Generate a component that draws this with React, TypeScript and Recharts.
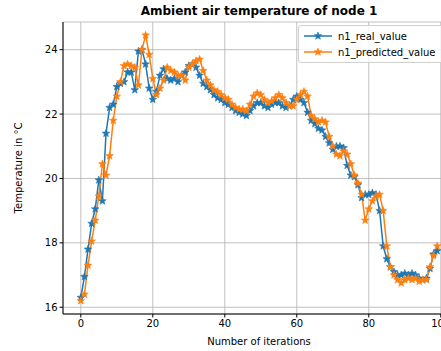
import { LineChart, Line, XAxis, YAxis, CartesianGrid } from "recharts";

const realValues = [
  16.3, 16.95, 17.8, 18.6, 19.05, 19.95, 19.3, 21.4, 22.2, 22.3,
  22.85, 22.95, 23.0, 23.3, 23.3, 22.75, 23.95, 24.0, 23.55, 22.8,
  22.45, 22.7, 23.2, 23.4, 23.1, 23.05, 23.1, 23.0, 23.2, 23.3,
  23.5, 23.55, 23.45, 23.2, 22.95, 22.85, 22.75, 22.6, 22.5, 22.45,
  22.35, 22.3, 22.2, 22.1, 22.05, 22.0, 21.95, 22.1, 22.25, 22.35,
  22.35, 22.25, 22.2, 22.3, 22.35, 22.35, 22.25, 22.2, 22.25, 22.45,
  22.55, 22.45, 22.35, 22.05, 21.8, 21.7, 21.55, 21.5, 21.3, 21.1,
  20.9, 21.0, 21.0, 20.95, 20.4, 20.1, 20.05, 19.8, 19.4, 19.5,
  19.5, 19.55, 19.5, 19.0, 17.9, 17.5, 17.25, 17.1, 17.0, 17.0,
  17.05, 17.0, 17.05, 17.0, 16.9, 16.85, 16.9, 17.2, 17.65, 17.75,
];

const predictedValues = [
  16.2, 16.4, 17.3, 18.05, 18.7, 19.45, 20.45, 20.1, 20.7, 21.8,
  22.55, 23.0, 23.5, 23.55, 23.5, 23.45, 22.9, 24.0, 24.45, 23.85,
  23.1, 22.6, 22.8, 23.05, 23.45, 23.35, 23.3, 23.2, 23.2, 23.05,
  23.45, 23.55, 23.65, 23.7, 23.35, 23.05, 22.9, 22.75, 22.7, 22.6,
  22.5, 22.45, 22.3, 22.2, 22.15, 22.15, 22.1, 22.3, 22.55, 22.65,
  22.6, 22.45, 22.35, 22.4, 22.5, 22.6, 22.5, 22.35, 22.25, 22.25,
  22.45, 22.6, 22.7, 22.55, 21.95, 21.85, 21.75, 21.8, 21.75, 21.3,
  21.0, 20.75, 20.7, 20.85, 20.75, 20.45, 20.1, 19.85, 19.5, 18.7,
  19.05, 19.3, 19.45, 19.5, 19.0, 17.9, 17.25, 17.0, 16.85, 16.75,
  16.85, 16.9, 16.85, 16.9, 16.8, 16.85, 16.85, 17.25, 17.6, 17.9,
];

const xTicks = [0, 20, 40, 60, 80, 100];
const yTicks = [16, 18, 20, 22, 24];

const data = realValues.map((v, i) => ({
  iteration: i,
  n1_real_value: v,
  n1_predicted_value: predictedValues[i],
}));

const BLUE = "#1f77b4";
const ORANGE = "#ff7f0e";
const FONT = "'DejaVu Sans', sans-serif";

function starPath(cx: number, cy: number, r: number) {
  const inner = r * 0.42;
  let d = "";
  for (let k = 0; k < 10; k++) {
    const rad = k % 2 === 0 ? r : inner;
    const a = -Math.PI / 2 + (k * Math.PI) / 5;
    d += (k === 0 ? "M" : "L") + (cx + rad * Math.cos(a)).toFixed(2) + "," + (cy + rad * Math.sin(a)).toFixed(2);
  }
  return d + "Z";
}

const starDot = (color: string) => (props: any) => {
  const { cx, cy, index } = props;
  return <path key={`s-${index}`} d={starPath(cx, cy, 4)} fill={color} stroke={color} strokeWidth={0.6} />;
};

function LegendBox() {
  const rows = [
    { name: "n1_real_value", color: BLUE },
    { name: "n1_predicted_value", color: ORANGE },
  ];
  return (
    <div
      style={{
        position: "absolute",
        left: 298,
        top: 25,
        border: "1px solid #d0d0d0",
        borderRadius: 3,
        background: "rgba(255,255,255,0.8)",
        padding: "2px 6px 2px 5px",
        fontFamily: FONT,
        fontSize: 10,
        color: "#000",
        width: 140,
      }}
    >
      {rows.map((r) => (
        <div key={r.name} style={{ display: "flex", alignItems: "center", height: 16 }}>
          <svg width={28} height={10} style={{ marginRight: 6 }}>
            <line x1={0} y1={5} x2={28} y2={5} stroke={r.color} strokeWidth={1.5} />
            <path d={starPath(14, 5, 4)} fill={r.color} stroke={r.color} strokeWidth={0.6} />
          </svg>
          <span style={{ whiteSpace: "nowrap" }}>{r.name}</span>
        </div>
      ))}
    </div>
  );
}

export default function App() {
  return (
    <div
      style={{
        position: "absolute",
        left: 0,
        top: 0,
        width: 441,
        height: 351,
        overflow: "hidden",
        background: "#fff",
      }}
    >
      <div
        style={{
          position: "absolute",
          top: 4,
          left: 63,
          width: 392,
          textAlign: "center",
          fontFamily: FONT,
          fontWeight: "bold",
          fontSize: 12,
          color: "#000",
        }}
      >
        Ambient air temperature of node 1
      </div>
      <LineChart
        width={470}
        height={351}
        data={data}
        margin={{ top: 22, right: 15, bottom: 0, left: 0 }}
      >
        <CartesianGrid stroke="#b0b0b0" strokeWidth={0.8} />
        <XAxis
          dataKey="iteration"
          type="number"
          domain={[-4.95, 103.95]}
          ticks={xTicks}
          allowDataOverflow
          height={37}
          tick={{ fill: "#000", fontSize: 10, fontFamily: FONT }}
          tickLine={{ stroke: "#000" }}
          tickSize={3.5}
          axisLine={{ stroke: "#000", strokeWidth: 1 }}
          label={(p: any) => {
            const vb = p.viewBox;
            return (
              <text
                x={vb.x + vb.width / 2}
                y={vb.y + 31}
                textAnchor="middle"
                fontFamily={FONT}
                fontSize={10}
                fill="#000"
              >
                Number of iterations
              </text>
            );
          }}
        />
        <XAxis
          xAxisId="top"
          orientation="top"
          type="number"
          domain={[-4.95, 103.95]}
          height={0}
          tick={false}
          tickLine={false}
          axisLine={{ stroke: "#000", strokeWidth: 1 }}
        />
        <YAxis
          type="number"
          domain={[15.79, 24.86]}
          ticks={yTicks}
          allowDataOverflow
          width={63}
          tick={{ fill: "#000", fontSize: 10, fontFamily: FONT }}
          tickLine={{ stroke: "#000" }}
          tickSize={3.5}
          axisLine={{ stroke: "#000", strokeWidth: 1 }}
          label={(p: any) => {
            const vb = p.viewBox;
            const cy = vb.y + vb.height / 2;
            return (
              <text
                x={22}
                y={cy}
                transform={`rotate(-90, 22, ${cy})`}
                textAnchor="middle"
                fontFamily={FONT}
                fontSize={10}
                fill="#000"
              >
                Temperature in °C
              </text>
            );
          }}
        />
        <Line
          dataKey="n1_real_value"
          stroke={BLUE}
          strokeWidth={1.5}
          dot={starDot(BLUE)}
          activeDot={false}
          isAnimationActive={false}
        />
        <Line
          dataKey="n1_predicted_value"
          stroke={ORANGE}
          strokeWidth={1.5}
          dot={starDot(ORANGE)}
          activeDot={false}
          isAnimationActive={false}
        />
      </LineChart>
      <LegendBox />
    </div>
  );
}
